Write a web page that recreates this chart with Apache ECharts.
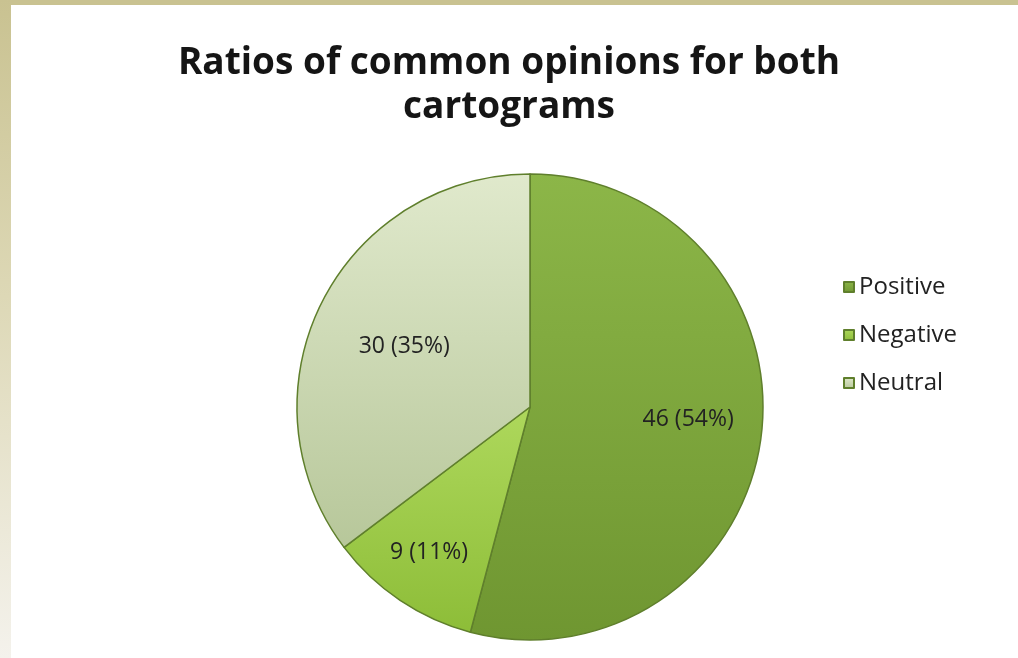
<!DOCTYPE html>
<html>
<head>
<meta charset="utf-8">
<script src="https://cdn.jsdelivr.net/npm/echarts@6/dist/echarts.min.js"></script>
<style>
  html, body { margin: 0; padding: 0; background: #fff; }
  #topbar { position: absolute; left: 0; top: 0; width: 1018px; height: 5px; background: #c9c291; }
  #leftbar { position: absolute; left: 0; top: 0; width: 11px; height: 658px;
    background: linear-gradient(to bottom, #c9c291 0%, #ddd8b6 45%, #f4f2ec 100%); }
  #main { position: absolute; left: 0; top: 0; width: 1018px; height: 658px; }
</style>
</head>
<body>
<div id="topbar"></div>
<div id="leftbar"></div>
<div id="main"></div>
<script>
// 数据
var categories = ['Positive', 'Negative', 'Neutral'];
var counts = [46, 9, 30];
var percents = [54, 11, 35];

// 颜色（上 -> 下渐变）
var colors = [
  ['#8cb648', '#6f9631'],
  ['#aed85c', '#8dbd38'],
  ['#e0e9cc', '#b7c79a']
];
// 标签微调
var labelOffsets = [[0, -8], [-12, 13], [17, 11]];

var myChart = echarts.init(document.getElementById('main'));

function grad(c) {
  return new echarts.graphic.LinearGradient(0, 0, 0, 1, [
    { offset: 0, color: c[0] },
    { offset: 1, color: c[1] }
  ]);
}

var pieData = categories.map(function (name, i) {
  return { value: counts[i], name: name, itemStyle: { color: grad(colors[i]) } };
});

var labelData = categories.map(function (name, i) {
  return { value: counts[i], name: name, label: { offset: labelOffsets[i] } };
});

option = {
  title: {
    text: 'Ratios of common opinions for both\ncartograms',
    left: 'center',
    top: 36,
    textStyle: {
      fontFamily: 'Open Sans',
      fontWeight: 'bold',
      fontSize: 37,
      lineHeight: 44,
      color: '#151515'
    }
  },
  legend: {
    orient: 'vertical',
    left: 838,
    top: 269,
    icon: 'rect',
    itemWidth: 10,
    itemHeight: 10,
    itemGap: 22,
    data: categories,
    textStyle: { fontFamily: 'Open Sans', fontSize: 24, lineHeight: 26, color: '#222' }
  },
  series: [{
    name: 'opinions',
    type: 'pie',
    center: [530, 407],
    radius: [0, 233],
    startAngle: 90,
    clockwise: true,
    silent: true,
    itemStyle: { borderColor: '#5f7f2c', borderWidth: 1.5 },
    label: { show: false },
    labelLine: { show: false },
    data: pieData
  }, {
    name: 'labels',
    type: 'pie',
    center: [530, 407],
    radius: [80, 233],
    startAngle: 90,
    clockwise: true,
    silent: true,
    itemStyle: { color: 'rgba(0,0,0,0)', borderWidth: 0 },
    label: {
      show: true,
      position: 'inside',
      fontFamily: 'Open Sans',
      fontSize: 23,
      color: '#222',
      formatter: function (p) {
        return p.value + ' (' + percents[p.dataIndex] + '%)';
      }
    },
    labelLine: { show: false },
    data: labelData
  }]
};

myChart.setOption(option);
</script>
</body>
</html>
